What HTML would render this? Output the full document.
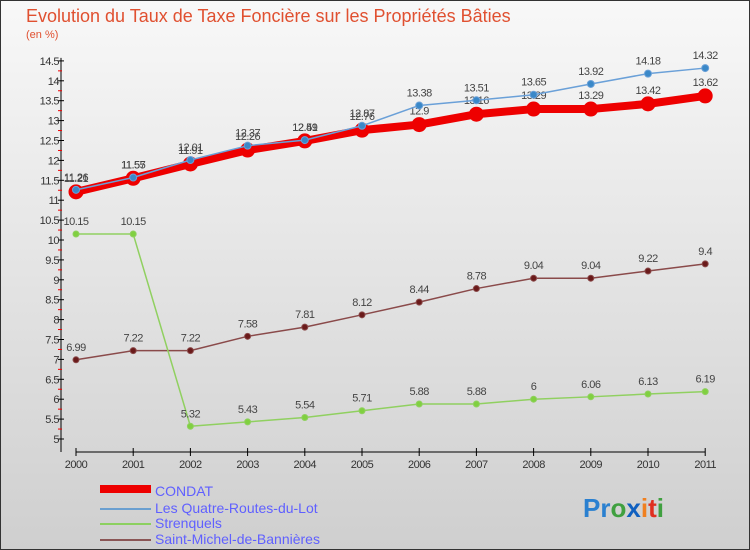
<!DOCTYPE html>
<html><head><meta charset="utf-8"><style>
body{margin:0;width:750px;height:550px;overflow:hidden;font-family:"Liberation Sans",sans-serif}
#wrap{position:absolute;left:0;top:0;width:748px;height:548px;border:1px solid #333;background:linear-gradient(#f8f8f8,#cfcfcf)}
</style></head><body>
<div id="wrap">
<svg id="svg" width="750" height="550" style="position:absolute;left:-1px;top:-1px">
<text x="26" y="22" font-size="18" fill="#e05030">Evolution du Taux de Taxe Foncière sur les Propriétés Bâties</text>
<text x="26" y="38" font-size="11" fill="#e05030">(en %)</text>
<g id="axes"></g><g id="series"></g>
<g>
<rect x="100" y="485" width="51" height="8" fill="#e00"/>
<text x="155" y="496" font-size="14" fill="#6060ff">CONDAT</text>
<line x1="100" y1="509" x2="151" y2="509" stroke="#6a9fd0" stroke-width="2"/>
<text x="155" y="513" font-size="14" fill="#6060ff">Les Quatre-Routes-du-Lot</text>
<line x1="100" y1="524" x2="151" y2="524" stroke="#8cd060" stroke-width="2"/>
<text x="155" y="528" font-size="14" fill="#6060ff">Strenquels</text>
<line x1="100" y1="540" x2="151" y2="540" stroke="#8a5555" stroke-width="2"/>
<text x="155" y="544" font-size="14" fill="#6060ff">Saint-Michel-de-Bannières</text>
</g>
<text x="583" y="517" font-size="26" font-weight="bold"><tspan fill="#2a80d0">Pr</tspan><tspan fill="#40a040">o</tspan><tspan fill="#1060c0">x</tspan><tspan fill="#f08020">i</tspan><tspan fill="#e03020">t</tspan><tspan fill="#40a040">i</tspan></text>
</svg></div>
<script>
const years=["2000","2001","2002","2003","2004","2005","2006","2007","2008","2009","2010","2011"];
const condat=[11.21,11.55,11.91,12.26,12.49,12.76,12.9,13.16,13.29,13.29,13.42,13.62];
const quatre=[11.26,11.57,12.01,12.37,12.51,12.87,13.38,13.51,13.65,13.92,14.18,14.32];
const strenquels=[10.15,10.15,5.32,5.43,5.54,5.71,5.88,5.88,6,6.06,6.13,6.19];
const stmichel=[6.99,7.22,7.22,7.58,7.81,8.12,8.44,8.78,9.04,9.04,9.22,9.4];
const yTicks=[5,5.5,6,6.5,7,7.5,8,8.5,9,9.5,10,10.5,11,11.5,12,12.5,13,13.5,14,14.5];
const NS="http://www.w3.org/2000/svg";
const X=i=>76+i*57.2, Y=v=>439-(v-5)*39.8;
function mk(t,a,p){const e=document.createElementNS(NS,t);for(const k in a)e.setAttribute(k,a[k]);p.appendChild(e);return e;}
const ax=document.getElementById('axes'), sg=document.getElementById('series');
let e=mk('line',{x1:61,y1:Y(14.5)-3,x2:61,y2:452,stroke:'#000'},ax);

e=mk('line',{x1:76,y1:452,x2:705,y2:452,stroke:'#000'},ax);

yTicks.forEach(v=>{
  mk('line',{x1:58,y1:Y(v),x2:64,y2:Y(v),stroke:'#000'},ax);
  if(v<14.5)mk('line',{x1:58,y1:Y(v+0.25),x2:62,y2:Y(v+0.25),stroke:'#e00'},ax);
  const t=mk('text',{x:59,y:Y(v)+4,'font-size':11,'text-anchor':'end',fill:'#333','letter-spacing':'-0.5'},ax);
  t.textContent=String(v);
  
});
years.forEach((y,i)=>{
  mk('line',{x1:X(i),y1:448,x2:X(i),y2:456,stroke:'#000'},ax);
  const t=mk('text',{x:X(i),y:468,'font-size':11,'text-anchor':'middle',fill:'#333','letter-spacing':'-0.5'},ax);
  t.textContent=y;
  
});
function series(d,name,col,w,r,dot,lab){
  const g=mk('g',{},sg);
  
  const pl=mk('polyline',{points:d.map((v,i)=>X(i)+','+Y(v)).join(' '),fill:'none',stroke:col,'stroke-width':w,'stroke-linejoin':'round'},g);
  
  d.forEach((v,i)=>{
    const c=mk('circle',{cx:X(i),cy:Y(v),r:r,fill:dot,stroke:col,'stroke-width':1},g);
    
    const t=mk('text',{x:X(i),y:Y(v)-(lab||9),'font-size':11,'text-anchor':'middle',fill:'#444','letter-spacing':'-0.5'},g);
    t.textContent=String(v);
    
  });
}
series(stmichel,'saint-michel','#8a4a4a',1.5,3,'#6a1a1a');
series(strenquels,'strenquels','#90d060',1.5,3,'#80d040');
series(condat,'condat','#ee0000',8,7,'#ee0000',10);
series(quatre,'quatre-routes','#6aa0d8',1.5,3.5,'#3a88c8');
</script>
</body></html>
